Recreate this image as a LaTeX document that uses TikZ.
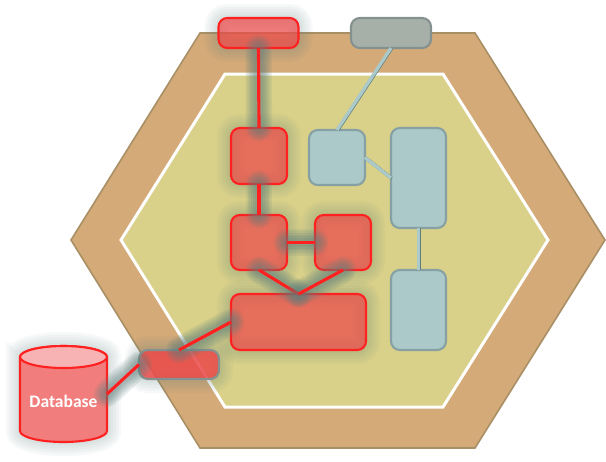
\documentclass[tikz,border=0pt]{standalone}
\usepackage{fontspec}
\setmainfont{Carlito}

\definecolor{hexouter}{HTML}{D4AA78}
\definecolor{hexedge}{HTML}{A98F65}
\definecolor{hexinner}{HTML}{D9D189}
\definecolor{redfill}{HTML}{EC4A4A}
\definecolor{redline}{HTML}{FF2020}
\definecolor{bluefill}{HTML}{ABC9C9}
\definecolor{blueedge}{HTML}{87A0A3}
\definecolor{greyfill}{HTML}{A6B0A9}
\definecolor{greyedge}{HTML}{84918F}
\definecolor{glow}{HTML}{5F7F7C}

\tikzset{
    boxsize/.style 2 args={minimum width=#1*0.02cm, minimum height=#2*0.02cm},
    glowbox/.style={
        preaction={draw=glow, draw opacity=.05, line width=16pt},
        preaction={draw=glow, draw opacity=.05, line width=13pt},
        preaction={draw=glow, draw opacity=.05, line width=10pt},
        preaction={draw=glow, draw opacity=.05, line width=7pt},
        preaction={draw=glow, draw opacity=.05, line width=4pt}
    },
    redbox/.style={draw=redline, line width=1.2pt, fill=redfill, fill opacity=.72,
        rounded corners=5pt, inner sep=0pt, outer sep=0pt, glowbox},
    bluebox/.style={draw=blueedge, line width=1.2pt, fill=bluefill,
        rounded corners=5pt, inner sep=0pt, outer sep=0pt},
    redlink/.style={draw=redline, line width=1.8pt,
        preaction={draw=glow, draw opacity=.12, line width=15pt, line cap=round},
        preaction={draw=glow, draw opacity=.12, line width=13pt, line cap=round},
        preaction={draw=glow, draw opacity=.13, line width=11pt, line cap=round},
        preaction={draw=glow, draw opacity=.13, line width=9pt, line cap=round},
        preaction={draw=glow, draw opacity=.14, line width=7pt, line cap=round},
        preaction={draw=glow, draw opacity=.14, line width=5pt, line cap=round}
    },
    bluelink/.style={draw=bluefill, line width=1.9pt,
        preaction={draw=glow, line width=1.9pt, transform canvas={xshift=.35pt, yshift=-.2pt}}
    }
}

\begin{document}
\begin{tikzpicture}[x=0.02cm, y=-0.02cm]
    \useasboundingbox (0,0) rectangle (606,461);

    % Hexagons
    \draw[draw=hexedge, line width=.9pt, fill=hexouter]
        (71,240) -- (200,33) -- (475,33) -- (605,240) -- (475,448) -- (200,448) -- cycle;
    \draw[draw=white, line width=1.7pt, fill=hexinner]
        (121,240) -- (225,74) -- (443,74) -- (548,240) -- (443,407) -- (225,407) -- cycle;

    % Red boxes
    \node[redbox, boxsize={80}{30}] (webport) at (258.5,33) {};
    \node[redbox, boxsize={56}{56}] (handler) at (259,156) {};
    \node[redbox, boxsize={56}{55}] (serviceA) at (259,242.5) {};
    \node[redbox, boxsize={56}{55}] (serviceB) at (343,242.5) {};
    \node[redbox, boxsize={135}{56}] (domain) at (298.5,322) {};

    % Blue boxes
    \node[bluebox, draw=greyedge, fill=greyfill, boxsize={80}{30}] (greyport) at (391,33) {};
    \node[bluebox, boxsize={56}{55}] (blueA) at (337,157.5) {};
    \node[bluebox, boxsize={55}{100}] (blueB) at (418.5,178) {};
    \node[bluebox, boxsize={55}{80}] (blueC) at (418.5,310) {};

    % Database side
    \node[redbox, draw=greyedge, boxsize={80}{29}, fill opacity=.85] (dbport) at (179,364.5) {};
    \draw[draw=redline, line width=1.2pt, fill=redfill!72!white, glowbox]
        (20,357) -- (20,431) arc[start angle=180, end angle=0, x radius=43.5, y radius=11]
        -- (107,357) arc[start angle=0, end angle=-180, x radius=43.5, y radius=11] -- cycle;
    \draw[draw=redline, line width=1.2pt, fill=redfill!42!white] (63.5,357) ellipse[x radius=43.5, y radius=11];
    \node[text=white, font=\bfseries\fontsize{10pt}{12pt}\selectfont] (database) at (63.5,401) {Database};
    \coordinate (dbside) at (107,394);

    % Red connectors
    \draw[redlink] (webport.south) -- (handler.north);
    \draw[redlink] (handler.south) -- (serviceA.north);
    \draw[redlink] (serviceA.east) -- (serviceB.west);
    \draw[redlink] (serviceA.south) -- (domain.north);
    \draw[redlink] (serviceB.south) -- (domain.north);
    \draw[redlink] (domain.west) -- (dbport.north);
    \draw[redlink] (dbport.west) -- (dbside);

    % Blue connectors
    \draw[bluelink] (greyport.south) -- (blueA.north);
    \draw[bluelink] (blueA.east) -- (blueB.west);
    \draw[bluelink] (blueB.south) -- (blueC.north);
\end{tikzpicture}
\end{document}
